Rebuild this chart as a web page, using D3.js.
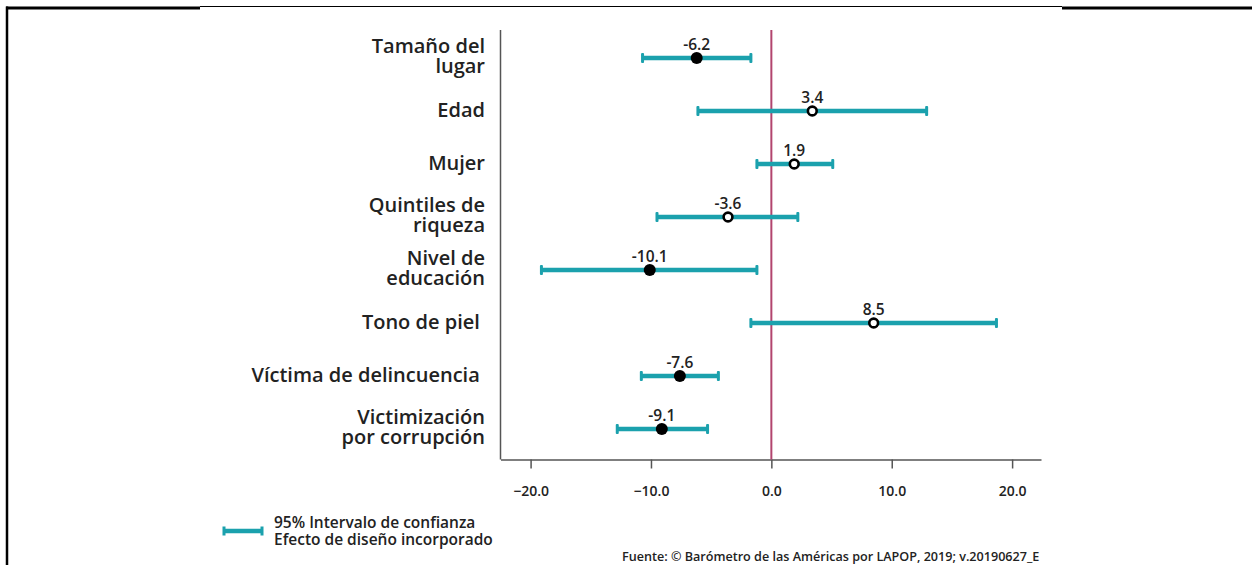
<!DOCTYPE html>
<html>
<head>
<meta charset="utf-8">
<script src="https://cdn.jsdelivr.net/npm/d3@7/dist/d3.min.js"></script>
<style>
  html, body { margin: 0; padding: 0; background: #fff; }
  svg { display: block; font-family: "Open Sans", "Noto Sans", sans-serif; }
  .cat { white-space: pre; }
</style>
</head>
<body>
<svg id="chart" width="1252" height="565"></svg>
<script>
// Regression coefficients with 95% confidence intervals
const categories = [
  ["Tamaño del", "lugar"],
  ["Edad"],
  ["Mujer"],
  ["Quintiles de", "riqueza"],
  ["Nivel de", "educación"],
  ["Tono de piel "],
  ["Víctima de delincuencia "],
  ["Victimización", "por corrupción"]
];
const estimates = [-6.2, 3.4, 1.9, -3.6, -10.1, 8.5, -7.6, -9.1];
const lowerCI   = [-10.7, -6.1, -1.2, -9.5, -19.1, -1.7, -10.8, -12.8];
const upperCI   = [-1.7, 12.9, 5.1, 2.2, -1.2, 18.7, -4.4, -5.3];
const xTicks    = [-20, -10, 0, 10, 20];

const teal = "#1ba1ad";
const refColor = "#b2456e";
const textColor = "#222";

const svg = d3.select("#chart");

// Frame lines along the top and left edge
svg.append("line").attr("x1", 6).attr("x2", 200).attr("y1", 8).attr("y2", 8)
  .attr("stroke", "#000").attr("stroke-width", 3);
svg.append("line").attr("x1", 200).attr("x2", 1062).attr("y1", 6.5).attr("y2", 6.5)
  .attr("stroke", "#000").attr("stroke-width", 1.2);
svg.append("line").attr("x1", 1062).attr("x2", 1252).attr("y1", 8).attr("y2", 8)
  .attr("stroke", "#000").attr("stroke-width", 3);
svg.append("line").attr("x1", 7).attr("x2", 7).attr("y1", 6.5).attr("y2", 565)
  .attr("stroke", "#000").attr("stroke-width", 2.5);

const x = d3.scaleLinear().domain([-22.5, 22.4]).range([500.5, 1041]);
const keys = categories.map((c, i) => i);
const y = d3.scalePoint().domain(keys).range([58, 429]);

const plotTop = 30, plotBottom = 459.5;

// Axes
svg.append("line").attr("x1", 500.5).attr("x2", 500.5).attr("y1", plotTop).attr("y2", plotBottom)
  .attr("stroke", "#555").attr("stroke-width", 1.5);

const xAxis = d3.axisBottom(x).tickValues(xTicks).tickFormat(d3.format(".1f"))
  .tickSize(9).tickSizeOuter(0).tickPadding(18);
const gx = svg.append("g").attr("transform", `translate(0,${plotBottom})`).call(xAxis);
gx.select(".domain").attr("stroke", "#555").attr("stroke-width", 1.5);
gx.selectAll(".tick line").attr("stroke", "#555").attr("stroke-width", 1.5);
gx.selectAll(".tick text").attr("fill", textColor).attr("font-size", 14)
  .attr("font-weight", 600).attr("font-family", '"Open Sans", sans-serif');

// Reference line at zero
svg.append("line").attr("x1", x(0)).attr("x2", x(0)).attr("y1", plotTop).attr("y2", plotBottom)
  .attr("stroke", refColor).attr("stroke-width", 2);

// Category labels, one text per line, right-aligned against the axis
const labelG = svg.append("g");
keys.forEach(i => {
  const lines = categories[i];
  const lh = 19.5;
  const start = y(i) - (lines.length - 1) * lh / 2 + 6 - (lines.length > 1 ? 1 : 0);
  lines.forEach((ln, j) => {
    labelG.append("text").attr("class", "cat")
      .attr("x", 485).attr("y", start + j * lh)
      .attr("text-anchor", "end").attr("fill", textColor)
      .attr("font-size", 20).attr("font-weight", 600)
      .text(ln);
  });
});

// Confidence intervals
const rows = svg.append("g").selectAll("g").data(keys).join("g");
rows.append("line")
  .attr("x1", i => x(lowerCI[i])).attr("x2", i => x(upperCI[i]))
  .attr("y1", i => y(i)).attr("y2", i => y(i))
  .attr("stroke", teal).attr("stroke-width", 4.5);
rows.append("rect")
  .attr("x", i => x(lowerCI[i]) - 1.5).attr("y", i => y(i) - 5)
  .attr("width", 3).attr("height", 10).attr("rx", 1).attr("fill", teal);
rows.append("rect")
  .attr("x", i => x(upperCI[i]) - 1.5).attr("y", i => y(i) - 5)
  .attr("width", 3).attr("height", 10).attr("rx", 1).attr("fill", teal);

// Point estimates: filled when the interval excludes zero
const sig = i => lowerCI[i] > 0 || upperCI[i] < 0;
rows.append("circle")
  .attr("cx", i => x(estimates[i])).attr("cy", i => y(i))
  .attr("r", i => sig(i) ? 6 : 4.4)
  .attr("fill", i => sig(i) ? "#000" : "#fff")
  .attr("stroke", "#000")
  .attr("stroke-width", i => sig(i) ? 0 : 2.6);

rows.append("text")
  .attr("x", i => x(estimates[i])).attr("y", i => y(i) - 8)
  .attr("text-anchor", "middle").attr("fill", textColor)
  .attr("font-size", 15.5).attr("font-weight", 600)
  .text(i => estimates[i].toFixed(1));

// Legend
svg.append("line").attr("x1", 224).attr("x2", 262).attr("y1", 531).attr("y2", 531)
  .attr("stroke", teal).attr("stroke-width", 4.5);
svg.append("rect").attr("x", 222.5).attr("y", 526.5).attr("width", 3).attr("height", 9).attr("fill", teal);
svg.append("rect").attr("x", 260.5).attr("y", 526.5).attr("width", 3).attr("height", 9).attr("fill", teal);
const legLines = ["95% Intervalo de confianza", "Efecto de diseño incorporado"];
legLines.forEach((t, j) => {
  svg.append("text").attr("x", 274).attr("y", 528 + j * 17)
    .attr("fill", textColor).attr("font-size", 15.5).attr("font-weight", 600).text(t);
});

// Source note
svg.append("text").attr("x", 622).attr("y", 561).attr("fill", textColor)
  .attr("font-size", 12.6).attr("font-weight", 600)
  .text("Fuente: © Barómetro de las Américas por LAPOP, 2019; v.20190627_E");
</script>
</body>
</html>
